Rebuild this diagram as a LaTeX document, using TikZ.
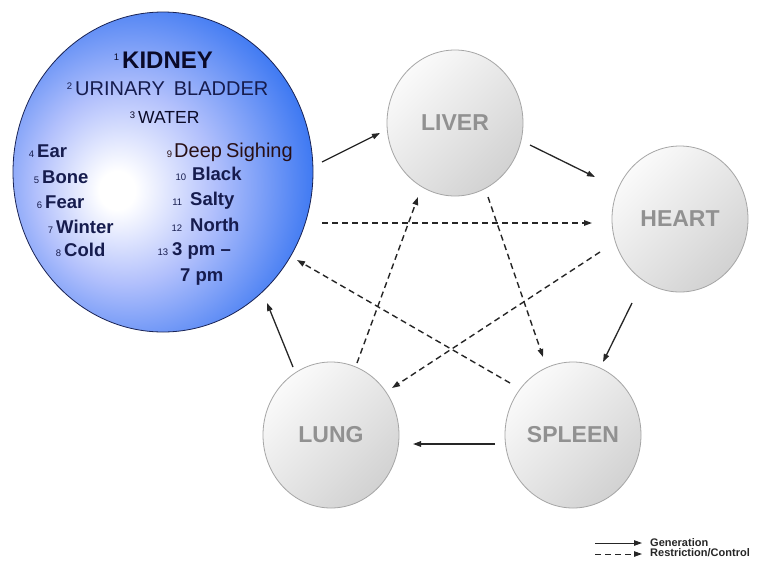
\documentclass[tikz,border=0pt]{standalone}
\usepackage{fontspec}
\setmainfont{Liberation Sans}
\usetikzlibrary{shapes.geometric,arrows.meta,calc}
\definecolor{kblue}{RGB}{38,106,240}
\definecolor{klav}{RGB}{178,192,252}
\definecolor{kborder}{RGB}{25,35,85}
\definecolor{knavy}{RGB}{22,28,78}
\definecolor{kdark}{RGB}{10,10,40}
\definecolor{kred}{RGB}{40,15,20}
\definecolor{gborder}{RGB}{165,165,165}
\definecolor{gtext}{RGB}{145,145,145}
\definecolor{glight}{RGB}{250,250,250}
\definecolor{gdark}{RGB}{210,210,210}
\pgfdeclareradialshading{kidshade}{\pgfpoint{-8bp}{-3bp}}{color(0bp)=(white); color(3bp)=(white); color(15bp)=(klav); color(33bp)=(kblue); color(70bp)=(kblue)}
\newcommand\knum[1]{{\fontsize{9.5}{10}\selectfont\mdseries #1}}
\begin{document}
\begin{tikzpicture}[x=1pt,y=-1pt,
  organ/.style={ellipse, minimum width=136pt, minimum height=146pt, inner sep=0pt,
    draw=gborder, line width=0.8pt, top color=glight, bottom color=gdark, shading angle=45,
    text=gtext, font=\fontsize{23}{27}\selectfont\bfseries},
  ktxt/.style={anchor=base west, inner sep=0pt, text=knavy},
  listf/.style={font=\fontsize{18.5}{20}\selectfont\bfseries},
  genarrow/.style={line width=1.3pt, draw=black!85, -{Triangle[length=8pt,width=5.5pt]}},
  ctrlarrow/.style={genarrow, line width=1.4pt, dash pattern=on 6pt off 4pt},
  legtxt/.style={anchor=west, inner sep=0pt, text=black!85, font=\fontsize{11}{12}\selectfont\bfseries}]
\useasboundingbox (0,0) rectangle (758,571);
\fill[white] (0,0) rectangle (758,571);

% organs
\node[ellipse, minimum width=300pt, minimum height=320pt, inner sep=0pt, draw=kborder,
  line width=0.8pt, shade, shading=kidshade] (kidney) at (163,172) {};
\node[organ] (liver) at (455,123) {LIVER};
\node[organ] (heart) at (680,219) {HEART};
\node[organ] (spleen) at (573,435) {SPLEEN};
\node[organ] (lung) at (331,435) {LUNG};

% kidney texts
\node[ktxt, text=kdark, font=\fontsize{24}{26}\selectfont\bfseries] (t1) at (122,68.5)
  {\llap{\raisebox{8pt}{\knum{1}}\hspace{3pt}}KIDNEY};
\node[ktxt, font=\fontsize{20}{22}\selectfont] (t2) at (75,95)
  {\llap{\raisebox{6pt}{\knum{2}}\hspace{3pt}}URINARY\hspace{9pt}BLADDER};
\node[ktxt, text=kdark, font=\fontsize{17.5}{20}\selectfont] (t3) at (138,123)
  {\llap{\raisebox{5pt}{\knum{3}}\hspace{3pt}}WATER};
\node[ktxt, listf] (t4) at (37,157.5) {\llap{\knum{4}\hspace{3pt}}Ear};
\node[ktxt, listf] (t5) at (42,183.5) {\llap{\knum{5}\hspace{3pt}}Bone};
\node[ktxt, listf] (t6) at (45,208.5) {\llap{\knum{6}\hspace{3pt}}Fear};
\node[ktxt, listf] (t7) at (56,233.5) {\llap{\knum{7}\hspace{3pt}}Winter};
\node[ktxt, listf] (t8) at (64,256.5) {\llap{\knum{8}\hspace{3pt}}Cold};
\node[ktxt, text=kred, font=\fontsize{20}{22}\selectfont] (t9) at (174,157.5)
  {\llap{\knum{9}\hspace{2pt}}Deep\hspace{4pt}Sighing};
\node[ktxt, listf] (t10) at (192,180) {\llap{\knum{10}\hspace{6pt}}Black};
\node[ktxt, listf] (t11) at (190,205.5) {\llap{\knum{11}\hspace{8pt}}Salty};
\node[ktxt, listf] (t12) at (190,231.5) {\llap{\knum{12}\hspace{8pt}}North};
\node[ktxt, listf] (t13) at (172,255.5) {\llap{\knum{13}\hspace{4pt}}3 pm –};
\node[ktxt, listf] (t14) at (180,281.5) {7 pm};

% generation (solid)
\draw[genarrow] ($(kidney)+(159,-10)$) -- ($(liver)+(-75,10)$);
\draw[genarrow] ($(liver)+(75,22)$) -- ($(heart)+(-85,-42)$);
\draw[genarrow] ($(heart)+(-48,84)$) -- ($(spleen)+(30,-73)$);
\draw[genarrow] ($(spleen)+(-78,9)$) -- ($(lung)+(82,9)$);
\draw[genarrow] ($(lung)+(-38,-68)$) -- ($(kidney)+(104,131)$);

% restriction / control (dashed)
\draw[ctrlarrow] ($(kidney)+(159,51)$) -- ($(heart)+(-88,4)$);
\draw[ctrlarrow] ($(spleen)+(-63,-52)$) -- ($(kidney)+(134,88)$);
\draw[ctrlarrow] ($(lung)+(26,-72)$) -- ($(liver)+(-37,74)$);
\draw[ctrlarrow] ($(liver)+(33,74)$) -- ($(spleen)+(-30,-78)$);
\draw[ctrlarrow] ($(heart)+(-80,33)$) -- ($(lung)+(61,-47)$);

% legend
\node[legtxt] (lgen) at (650,543) {Generation};
\node[legtxt] (lctl) at (650,553) {Restriction/Control};
\coordinate (lgens) at (595,543);
\coordinate (lctls) at (595,554);
\draw[genarrow, line width=1pt, shorten >=8pt] (lgens) -- (lgens -| lgen.west);
\draw[ctrlarrow, line width=1pt, shorten >=8pt] (lctls) -- (lctls -| lctl.west);
\end{tikzpicture}
\end{document}
